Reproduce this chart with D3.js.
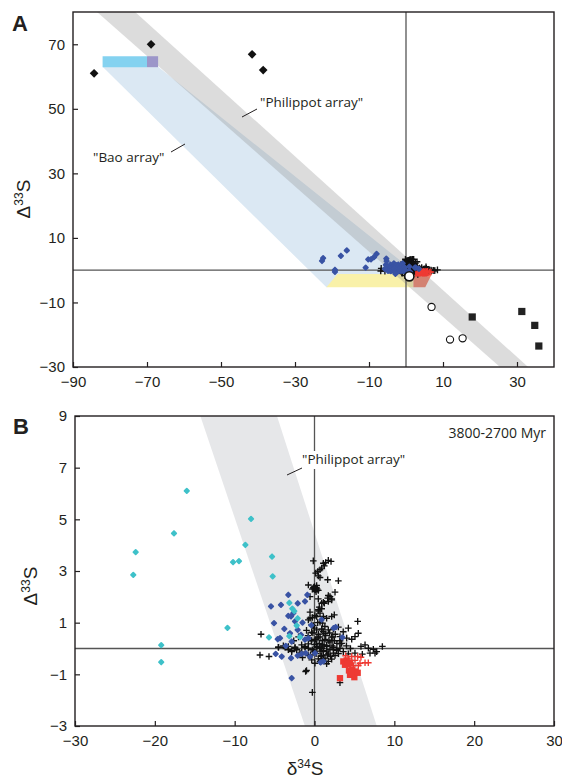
<!DOCTYPE html>
<html>
<head>
<meta charset="utf-8">
<style>
  body { margin: 0; background: #fff; }
  svg { display: block; }
  .axis text { font-family: "Liberation Sans", Arial, sans-serif; font-size: 15px; fill: #231f20; }
  .axis line { stroke: #231f20; stroke-width: 1.2; }
  .title { font-family: "Liberation Sans", Arial, sans-serif; font-size: 19px; fill: #231f20; }
  .panel-label { font-family: "Liberation Sans", Arial, sans-serif; font-size: 22px; font-weight: bold; fill: #231f20; }
  .note { font-family: "Open Sans", "Noto Sans", sans-serif; font-size: 13.5px; fill: #231f20; }
</style>
</head>
<body>
<svg width="562" height="781"></svg>

<script src="https://d3js.org/d3.v7.min.js"></script>
<script>
    // [d34S, D33S] pairs

    // panel A only
    let diamondsA = [[-84.3, 61.0], [-68.9, 70.0], [-41.6, 66.9], [-38.6, 62.0]]
    let squaresA = [[17.9, -14.5], [31.3, -12.8], [34.8, -17.1], [35.9, -23.5]]
    let circlesA = [[6.9, -11.4], [11.9, -21.5], [15.3, -21.1]]
    let meanCircleA = [[0.9, -1.9]]

    // Archean data (shown in both panels)
    let diamondsCyan = [
        [-16.0, 6.1], [-17.6, 4.46], [-22.4, 3.73], [-22.7, 2.85], [-7.95, 5.02], [-8.66, 4.01],
        [-10.2, 3.34], [-9.46, 3.38], [-5.32, 3.56], [-5.24, 2.79], [-10.9, 0.8], [-19.2, 0.13],
        [-19.2, -0.53], [-5.7, 0.43], [-3.15, 1.77], [-2.78, 1.54], [-2.53, 1.45], [-2.11, 1.17],
        [-2.23, 0.89], [-1.82, 0.44], [-3.15, 0.48]
    ]
    let diamondsBlue = [
        [-3.28, 2.08], [-5.45, 1.63], [-4.2, 1.69], [-2.1, 1.75], [-0.9, 2.08], [-1.19, 1.82],
        [-5.07, 0.98], [-3.78, 0.76], [-3.07, 0.59], [-4.61, 0.36], [-4.32, 0.40], [-2.86, 0.27],
        [-2.11, 0.72], [-1.69, 0.53], [-1.19, 0.34], [-0.77, 0.40], [-4.86, -0.21], [-4.11, -0.31],
        [-2.94, -0.37], [-2.11, -0.28], [-1.61, -0.21], [-1.11, -0.18], [-0.56, -0.31], [0.06, -0.18],
        [0.77, -0.54], [-2.86, -1.15], [3.49, 0.43], [2.65, 0.83], [-2.94, 1.24], [-2.44, 1.05],
        [-2.65, 1.37], [-3.28, 1.26], [0.9, 1.12], [2.4, 0.79], [1.1, -0.5], [-3.6, 0.1],
        [-1.5, 1.0], [-0.4, 0.9]
    ]
    let crossesBlack = [
        [-0.15, 3.39], [1.11, 3.30], [1.40, 3.33], [1.73, 3.41], [2.07, 3.37], [0.90, 3.11],
        [1.23, 3.20], [0.69, 3.05], [0.40, 2.98], [0.15, 2.92], [0.48, 2.81], [0.69, 2.75],
        [1.65, 2.66], [2.99, 2.62], [-0.77, 2.46], [-0.15, 2.34], [0.06, 2.30], [-0.27, 2.30],
        [0.27, 2.34], [0.0, 2.4], [0.1, 2.27], [1.65, 1.95], [1.94, 2.01], [2.15, 1.88],
        [1.73, 1.82], [1.23, 1.75], [0.90, 1.75], [-0.56, 2.01], [0.48, 1.50], [0.69, 1.37],
        [0.27, 1.24], [-0.27, 1.20], [-0.56, 1.17], [-0.77, 1.11], [1.11, 1.24], [1.52, 1.17],
        [2.15, 1.24], [2.48, 1.30], [2.99, 0.83], [4.24, 0.79], [5.41, 1.05], [1.0, 0.98],
        [-0.35, 0.92], [-0.02, 0.79], [0.27, 0.72], [0.90, 0.72], [1.73, 0.72], [2.36, 0.75],
        [3.19, 0.46], [4.03, 0.40], [4.66, 0.36], [5.07, 0.46], [5.49, 0.59], [5.82, 0.08],
        [6.33, 0.14], [6.75, 0.01], [7.37, -0.03], [7.79, -0.12], [8.50, 0.08], [7.58, -0.18],
        [6.95, -0.18], [5.99, -0.22], [5.07, -0.18], [4.24, -0.21], [-6.83, -0.25], [-5.70, -0.31],
        [-6.70, 0.55], [-4.53, 0.05], [-3.90, 0.10], [-3.28, 0.08], [-2.44, 0.01], [-1.61, 0.14],
        [-1.19, 0.08], [-0.77, 0.01], [-0.27, -0.05], [0.27, 0.08], [0.69, 0.01], [1.11, -0.12],
        [1.52, 0.08], [1.94, -0.05], [2.36, -0.18], [2.78, -0.05], [3.19, 0.01], [3.61, -0.12],
        [-0.35, -0.44], [0.06, -0.57], [0.69, -0.50], [1.32, -0.37], [1.73, -0.50], [2.15, -0.41],
        [-1.11, -0.89], [-1.0, -0.85], [3.19, -1.32], [-0.27, -1.70], [-3.28, -0.05], [-2.86, -0.12],
        [-2.23, -0.05], [-1.82, -0.18], [0.3, 0.4], [0.6, 0.2], [1.0, 0.3], [1.4, 0.5],
        [1.8, 0.3], [2.2, 0.1], [0.2, -0.2], [0.8, -0.3], [1.6, -0.25], [2.5, 0.3],
        [-0.4, 0.3], [-0.8, 0.5], [0.5, 0.55], [1.2, 0.1], [1.9, 0.6], [2.8, 0.2],
        [3.4, 0.2], [0.0, 0.15], [0.9, 0.0], [1.5, -0.1], [-0.5, -0.25], [-1.5, -0.35],
        [2.0, -0.3], [3.0, -0.2], [4.0, 0.1], [4.5, 0.0], [0.4, 1.0], [1.3, 0.85],
        [-0.2, 0.6], [0.7, 0.45], [1.1, 0.65], [2.6, 0.55], [3.6, 0.65], [-1.0, 0.7],
        [-2.0, 0.45], [-2.6, 0.3], [0.5, 1.45], [0.6, 1.6], [0.3, 0.05], [0.7, -0.1],
        [1.0, 0.15], [1.3, 0.35], [0.1, 0.35], [-0.1, -0.1], [2.3, 0.45], [3.2, 0.3],
        [-1.19, 0.05], [-0.77, 0.18], [-0.35, 0.31], [0.27, 0.18], [0.69, 0.05], [1.11, -0.08],
        [1.52, 0.12], [1.94, 0.25], [2.36, 0.05], [2.78, -0.08], [3.19, 0.18], [-1.6, -0.14],
        [-0.77, -0.27], [0.06, -0.14], [0.9, -0.27], [1.73, -0.21], [2.57, -0.27], [-0.35, 0.63],
        [0.9, 0.76], [1.32, 0.57], [2.15, 0.44], [0.48, 0.44], [-0.15, 0.89], [0.69, 1.02],
        [-2.44, 0.05], [-2.86, -0.08], [-3.7, 0.05], [-4.5, 0.05], [0.48, -0.4], [1.11, -0.4],
        [1.52, -0.59], [0.06, 1.28], [-0.56, 1.41], [0.9, 1.54], [0.48, 1.92], [1.11, 1.79],
        [1.73, 2.05], [2.15, 1.92], [2.57, 2.18], [0.27, 2.44], [0.06, 2.31], [0.48, 2.25],
        [-0.1, 2.36], [0.2, 2.2], [0.35, 2.3]
    ]
    let crossesRed = [
        [3.9, -0.28], [4.24, -0.40], [4.66, -0.31], [5.07, -0.46], [5.41, -0.31], [5.82, -0.34],
        [6.33, -0.55], [6.74, -0.55], [4.86, -0.66], [5.49, -0.66], [5.7, -0.57]
    ]
    let squaresRed = [
        [3.61, -0.50], [4.03, -0.46], [4.45, -0.55], [3.82, -0.63], [4.32, -0.85], [4.74, -0.81],
        [5.16, -0.89], [4.45, -1.02], [4.99, -1.11], [5.41, -0.94], [4.6, -0.95], [3.19, -1.15],
        [4.2, -0.6]
    ]

    // shaded fields, corners as [d34S, D33S]
    let philippotA = [[-83.5, 80], [-73.2, 80], [33.0, -30], [25.4, -30]]
    let baoA = [[-82, 63], [-67, 63], [3, -1.2], [-21.5, -5.3]]
    let yellowBoxA = [[-21.5, -5.3], [2, -5.3], [2, -1.2], [-18.5, -1.2]]
    let redBoxA = [[2, -5.3], [5.2, -5.3], [7, -1.2], [2, -1.2]]
    let blueBoxA = [[-82, 62.9], [-70, 62.9], [-70, 66.3], [-82, 66.3]]
    let purpleBoxA = [[-70, 62.9], [-67, 62.9], [-67, 66.3], [-70, 66.3]]
    let philippotB = [[-14.3, 9], [-4.7, 9], [7.8, -3], [-1.2, -3]]

    // ticks
    let xTicksA = [-90, -70, -50, -30, -10, 10, 30]
    let yTicksA = [-30, -10, 10, 30, 50, 70]
    let xTicksB = [-30, -20, -10, 0, 10, 20, 30]
    let yTicksB = [-3, -1, 1, 3, 5, 7, 9]

    let svg = d3.select("svg")

    function panel(id, xDomain, yDomain, left, right, top, bottom, xTicks, yTicks) {
        let x = d3.scaleLinear().domain(xDomain).range([left, right])
        let y = d3.scaleLinear().domain(yDomain).range([bottom, top])
        let g = svg.append("g")

        g.append("clipPath").attr("id", id)
            .append("rect")
            .attr("x", left).attr("y", top)
            .attr("width", right - left).attr("height", bottom - top)

        let fields = g.append("g").attr("clip-path", `url(#${id})`)
        let marks = g.append("g")

        g.append("g").attr("class", "axis")
            .attr("transform", `translate(0,${bottom})`)
            .call(d3.axisBottom(x).tickValues(xTicks).tickSize(-5).tickPadding(9).tickFormat(d3.format("d")))
            .call(a => a.select(".domain").remove())

        g.append("g").attr("class", "axis")
            .attr("transform", `translate(${left},0)`)
            .call(d3.axisLeft(y).tickValues(yTicks).tickSize(-5).tickPadding(8).tickFormat(d3.format("d")))
            .call(a => a.select(".domain").remove())

        return { x, y, g, fields, marks, left, right, top, bottom }
    }

    function poly(p, pts, fill, opacity) {
        p.fields.append("path")
            .attr("d", "M" + pts.map(d => p.x(d[0]) + "," + p.y(d[1])).join("L") + "Z")
            .attr("fill", fill)
            .attr("fill-opacity", opacity || 1)
    }

    function zeroLines(p) {
        p.fields.append("line")
            .attr("x1", p.left).attr("x2", p.right)
            .attr("y1", p.y(0)).attr("y2", p.y(0))
            .attr("stroke", "#555").attr("stroke-width", 1.3)
        p.fields.append("line")
            .attr("x1", p.x(0)).attr("x2", p.x(0))
            .attr("y1", p.top).attr("y2", p.bottom)
            .attr("stroke", "#555").attr("stroke-width", 1.3)
    }

    function frame(p) {
        p.g.append("rect")
            .attr("x", p.left).attr("y", p.top)
            .attr("width", p.right - p.left).attr("height", p.bottom - p.top)
            .attr("fill", "none").attr("stroke", "#231f20").attr("stroke-width", 1.4)
    }

    function crosses(p, data, color) {
        p.marks.selectAll(null).data(data).join("path")
            .attr("d", "M-3.3,0H3.3M0,-3.3V3.3")
            .attr("transform", d => `translate(${p.x(d[0])},${p.y(d[1])})`)
            .attr("stroke", color).attr("stroke-width", 1.35).attr("fill", "none")
    }

    function symbols(p, data, type, size, color, rotate, sw) {
        p.marks.selectAll(null).data(data).join("path")
            .attr("d", d3.symbol().type(type).size(size))
            .attr("transform", d => `translate(${p.x(d[0])},${p.y(d[1])}) rotate(${rotate || 0})`)
            .attr("fill", color)
            .attr("stroke", sw ? color : "none")
            .attr("stroke-width", sw || 0)
            .attr("stroke-linejoin", "round")
    }

    function circles(p, data, r, sw) {
        p.marks.selectAll(null).data(data).join("circle")
            .attr("cx", d => p.x(d[0])).attr("cy", d => p.y(d[1]))
            .attr("r", r)
            .attr("fill", "#fff").attr("stroke", "#111").attr("stroke-width", sw)
    }

    function deltaTitle(x, y) {
        let t = svg.append("text").attr("class", "title")
            .attr("transform", `translate(${x},${y}) rotate(-90)`)
            .attr("text-anchor", "middle")
        t.append("tspan").text("Δ")
        t.append("tspan").attr("font-size", 12).attr("dy", -7).text("33")
        t.append("tspan").attr("dy", 7).text("S")
    }

    function leader(x1, y1, x2, y2) {
        svg.append("line")
            .attr("x1", x1).attr("y1", y1).attr("x2", x2).attr("y2", y2)
            .attr("stroke", "#231f20").attr("stroke-width", 1)
    }

    let blue = "#3953a4"
    let cyan = "#3ec1c9"
    let red = "#ee3a33"
    let black = "#111"

    // ---------- panel A ----------
    let A = panel("clipA", [-90, 40], [-30, 80], 73, 554, 12, 367, xTicksA, yTicksA)

    poly(A, baoA, "#dbe8f3")
    poly(A, yellowBoxA, "#f9f1a9")
    poly(A, redBoxA, "#f27e68")
    poly(A, philippotA, "#8c8c8c", 0.3)
    poly(A, blueBoxA, "#84d2f0")
    poly(A, purpleBoxA, "#9c96c9")
    zeroLines(A)

    crosses(A, crossesBlack, black)
    crosses(A, crossesRed, red)
    symbols(A, squaresRed, d3.symbolSquare, 30, red)
    symbols(A, diamondsBlue.concat(diamondsCyan), d3.symbolSquare, 10, blue, 45, 1.8)
    symbols(A, diamondsA, d3.symbolSquare, 38, black, 45)
    symbols(A, squaresA, d3.symbolSquare, 52, "#222")
    circles(A, circlesA, 3.6, 1.1)
    circles(A, meanCircleA, 4.6, 1.6)
    frame(A)

    svg.append("text").attr("class", "panel-label").attr("x", 12).attr("y", 31).text("A")
    deltaTitle(30, 199)
    svg.append("text").attr("class", "note").attr("x", 260).attr("y", 107).text("\"Philippot array\"")
    leader(242, 117, 257, 109)
    svg.append("text").attr("class", "note").attr("x", 93).attr("y", 162).text("\"Bao array\"")
    leader(171, 152, 185, 144)

    // ---------- panel B ----------
    let B = panel("clipB", [-30, 30], [-3, 9], 75, 554, 416, 726, xTicksB, yTicksB)

    poly(B, philippotB, "#e6e7e9")
    zeroLines(B)

    crosses(B, crossesBlack, black)
    crosses(B, crossesRed, red)
    symbols(B, squaresRed, d3.symbolSquare, 40, red)
    symbols(B, diamondsBlue, d3.symbolSquare, 10, blue, 45, 1.8)
    symbols(B, diamondsCyan, d3.symbolSquare, 10, cyan, 45, 1.8)
    frame(B)

    svg.append("text").attr("class", "panel-label").attr("x", 13).attr("y", 434).text("B")
    deltaTitle(37, 586)

    svg.append("rect").attr("x", 300).attr("y", 451).attr("width", 114).attr("height", 18).attr("fill", "#fff")
    svg.append("text").attr("class", "note").attr("x", 302).attr("y", 464).text("\"Philippot array\"")
    leader(287, 475, 302, 468)

    svg.append("text").attr("class", "note").style("font-size", "14px")
        .attr("x", 546).attr("y", 438).attr("text-anchor", "end").text("3800-2700 Myr")

    let xt = svg.append("text").attr("class", "title")
        .attr("x", 305).attr("y", 775).attr("text-anchor", "middle")
    xt.append("tspan").text("δ")
    xt.append("tspan").attr("font-size", 12).attr("dy", -7).text("34")
    xt.append("tspan").attr("dy", 7).text("S")
</script>
</body>
</html>
